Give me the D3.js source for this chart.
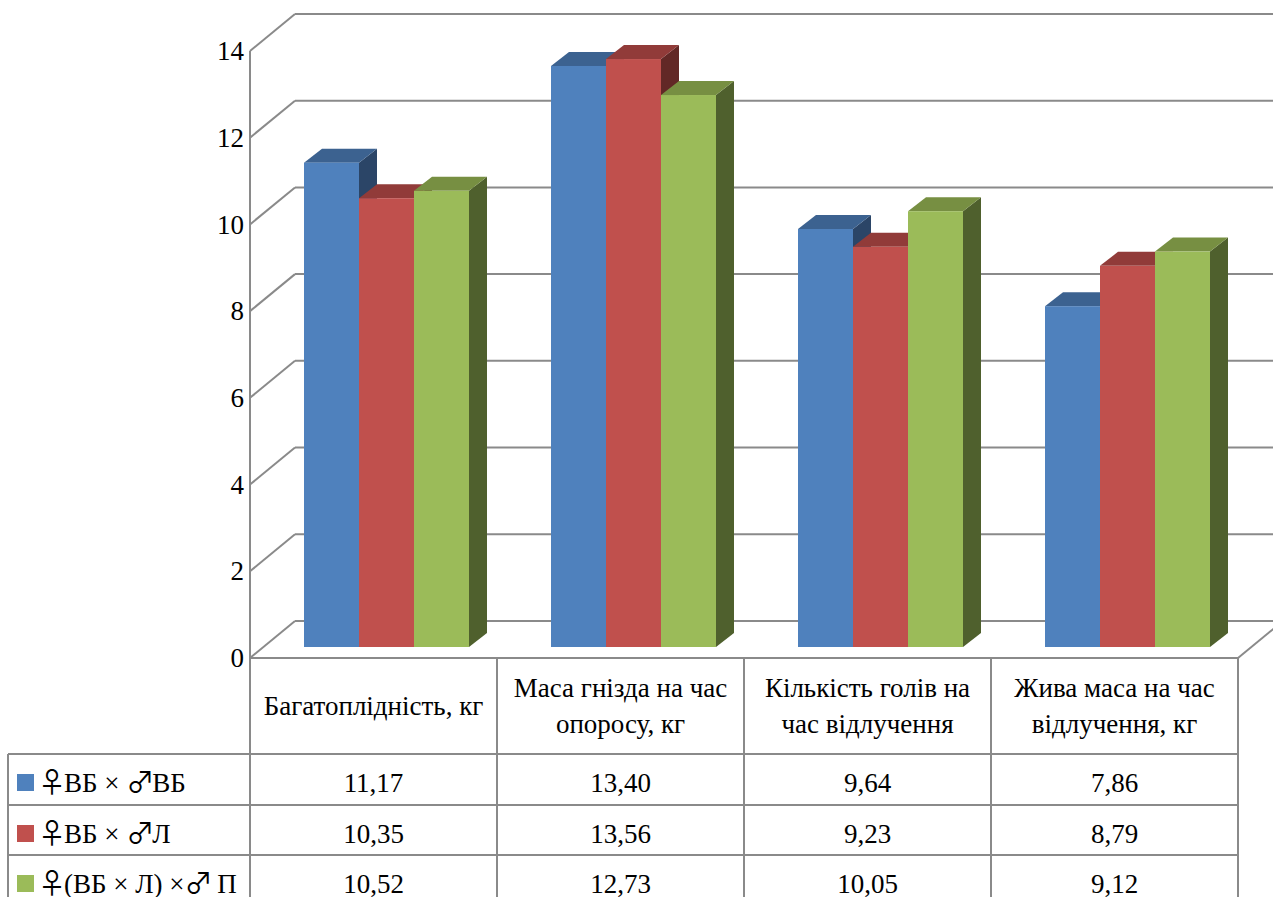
<!DOCTYPE html>
<html>
<head>
<meta charset="utf-8">
<script src="https://cdn.jsdelivr.net/npm/d3@7"></script>
<style>
  html, body { margin: 0; padding: 0; background: #fff; }
  svg { display: block; }
</style>
</head>
<body>
<svg id="chart" width="1273" height="897"></svg>
<script>
// Category names (with line breaks used in the table header)
const categories = [
  "Багатоплідність, кг",
  "Маса гнізда на час опоросу, кг",
  "Кількість голів на час відлучення",
  "Жива маса на час відлучення, кг"
];
const categoryLines = [
  ["Багатоплідність, кг"],
  ["Маса гнізда на час", "опоросу, кг"],
  ["Кількість голів на", "час відлучення"],
  ["Жива маса на час", "відлучення, кг"]
];

// Series (crossing variants)
const seriesNames = ["♀ВБ × ♂ВБ", "♀ВБ × ♂Л", "♀(ВБ × Л) ×♂ П"];
const valuesVBxVB = [11.17, 13.40, 9.64, 7.86];
const valuesVBxL  = [10.35, 13.56, 9.23, 8.79];
const valuesVBLxP = [10.52, 12.73, 10.05, 9.12];
const seriesValues = [valuesVBxVB, valuesVBxL, valuesVBLxP];

// Axis ticks
const yTicks = [0, 2, 4, 6, 8, 10, 12, 14];

// Colours: front, top, side faces
const palette = [
  { front: "#4F81BD", top: "#3C6290", side: "#2B4567" },
  { front: "#C0504D", top: "#913B39", side: "#622826" },
  { front: "#9BBB59", top: "#778F42", side: "#4F602D" }
];

const FONT = "'Liberation Serif', 'Times New Roman', Tinos, 'DejaVu Serif', serif";
const SYM_FONT = "'Noto Sans CJK JP', 'Noto Sans CJK SC', 'DejaVu Sans', sans-serif";
const FS = 27;

const svg = d3.select("#chart")
  .attr("font-family", FONT)
  .style("font-family", FONT);
const gridColor = "#8a8a8a";

// Front plane layout
const plotLeft = 250, plotRight = 1238;
const y = d3.scaleLinear().domain([0, 14]).range([658, 658 - 14 * 43.36]);
const x = d3.scaleBand().domain(categories).range([plotLeft, plotRight]).padding(0);

// 3D offsets
const wallDx = 45, wallDy = -37;       // back wall relative to front plane
const barDx = 13.4, barDy = -11;       // bar front face relative to front plane
const depthDx = 18, depthDy = -14;     // bar depth

const inner = d3.scaleBand().domain(d3.range(seriesNames.length))
  .range([40.6, 40.6 + 165]).padding(0);

// Back wall grid lines and side wall diagonals
const grid = svg.append("g").attr("stroke", gridColor).attr("stroke-width", 2).attr("fill", "none");
yTicks.forEach(t => {
  grid.append("line")
    .attr("x1", plotLeft + wallDx).attr("x2", plotRight + wallDx)
    .attr("y1", y(t) + wallDy).attr("y2", y(t) + wallDy);
  grid.append("line")
    .attr("x1", plotLeft).attr("y1", y(t))
    .attr("x2", plotLeft + wallDx).attr("y2", y(t) + wallDy);
});
// front vertical axis
grid.append("line")
  .attr("x1", plotLeft).attr("x2", plotLeft)
  .attr("y1", y(14)).attr("y2", y(0));
// right floor diagonal
grid.append("line")
  .attr("x1", plotRight).attr("y1", y(0))
  .attr("x2", plotRight + wallDx).attr("y2", y(0) + wallDy);

// Tick labels
svg.append("g").selectAll("text").data(yTicks).join("text")
  .attr("x", 244).attr("y", d => y(d))
  .attr("dy", "0.34em")
  .attr("text-anchor", "end")
  .attr("font-size", FS)
  .text(d => d);

// Bars
const bars = svg.append("g");
categories.forEach((cat, ci) => {
  seriesNames.forEach((s, si) => {
    const v = seriesValues[si][ci];
    const x0 = x(cat) + inner(si) + barDx;
    const x1 = x0 + inner.bandwidth();
    const yb = y(0) + barDy;
    const yt = y(v) + barDy;
    const c = palette[si];
    const pts = a => a.map(p => p.join(",")).join(" ");
    // side face
    bars.append("polygon").attr("fill", c.side)
      .attr("points", pts([[x1, yt], [x1 + depthDx, yt + depthDy], [x1 + depthDx, yb + depthDy], [x1, yb]]));
    // top face
    bars.append("polygon").attr("fill", c.top)
      .attr("points", pts([[x0, yt], [x0 + depthDx, yt + depthDy], [x1 + depthDx, yt + depthDy], [x1, yt]]));
    // front face
    bars.append("rect").attr("fill", c.front)
      .attr("x", x0).attr("y", yt)
      .attr("width", inner.bandwidth()).attr("height", yb - yt);
  });
});

// Data table
const tableTop = y(0);
const headerBottom = 754;
const rowTops = [754, 805, 855];
const legendLeft = 8;
const table = svg.append("g").attr("stroke", gridColor).attr("stroke-width", 2);

table.append("line").attr("x1", plotLeft).attr("x2", plotRight).attr("y1", tableTop).attr("y2", tableTop);
rowTops.forEach(r => {
  table.append("line").attr("x1", legendLeft).attr("x2", plotRight).attr("y1", r).attr("y2", r);
});
const colEdges = categories.map(c => x(c)).concat([plotRight]);
colEdges.forEach(xx => {
  table.append("line").attr("x1", xx).attr("x2", xx).attr("y1", tableTop).attr("y2", 897);
});
table.append("line").attr("x1", legendLeft).attr("x2", legendLeft).attr("y1", headerBottom).attr("y2", 897);

// Header text
const headerMid = (tableTop + headerBottom) / 2;
categories.forEach((c, ci) => {
  const lines = categoryLines[ci];
  const t = svg.append("text")
    .attr("text-anchor", "middle")
    .attr("font-size", FS);
  lines.forEach((ln, li) => {
    t.append("tspan")
      .attr("x", x(c) + x.bandwidth() / 2)
      .attr("y", headerMid + 9 + (li - (lines.length - 1) / 2) * 36)
      .text(ln);
  });
});

// Rows: legend key + values
const fmt = v => d3.format(".2f")(v).replace(".", ",");
seriesNames.forEach((s, si) => {
  const top = rowTops[si];
  svg.append("rect")
    .attr("x", 17).attr("y", top + 20)
    .attr("width", 17).attr("height", 17)
    .attr("fill", palette[si].front);
  // series label; the sex symbols come from a font with thin, tall glyphs
  const lbl = svg.append("text")
    .attr("x", 38).attr("y", top + 38)
    .attr("font-size", FS);
  let prevSym = false;
  Array.from(s).forEach(ch => {
    const sym = ch === "♀" || ch === "♂";
    const ts = lbl.append("tspan")
      .attr("font-size", sym ? 28 : FS)
      .attr("font-family", sym ? SYM_FONT : null)
      .text(ch);
    if (sym) ts.attr("dy", 1);
    if (prevSym) ts.attr("dx", -2).attr("dy", -1);
    prevSym = sym;
  });
  categories.forEach((c, ci) => {
    svg.append("text")
      .attr("x", x(c) + x.bandwidth() / 2)
      .attr("y", top + 38)
      .attr("text-anchor", "middle")
      .attr("font-size", FS)
      .text(fmt(seriesValues[si][ci]));
  });
});
</script>
</body>
</html>
